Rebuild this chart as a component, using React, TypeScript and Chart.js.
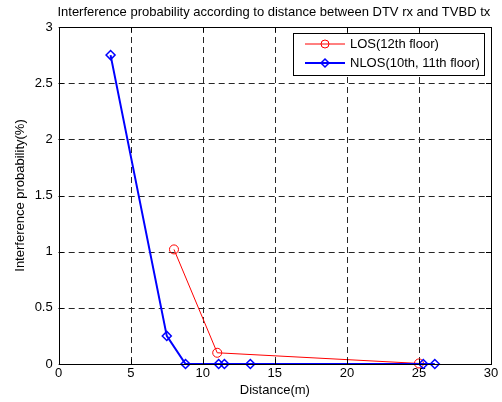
import React, { useEffect, useRef } from "react";
import { Chart, registerables } from "chart.js";

Chart.register(...registerables);

const titleText = "Interference probability according to distance between DTV rx and TVBD tx";
const xLabel = "Distance(m)";
const yLabel = "Interference probability(%)";

const losLabel = "LOS(12th floor)";
const losX = [8, 11, 25];
const losY = [1.02, 0.1, 0.005];

const nlosLabel = "NLOS(10th, 11th floor)";
const nlosX = [3.6, 7.5, 8.8, 11.1, 11.5, 13.3, 25.3, 26.1];
const nlosY = [2.75, 0.25, 0, 0, 0, 0, 0, 0];

const FONT = "Arial, 'Liberation Sans', sans-serif";
const FS = 13;

const gridPlugin = {
  id: "dashgrid",
  beforeDatasetsDraw(chart: any) {
    const { ctx, chartArea: a, scales } = chart;
    ctx.save();
    ctx.strokeStyle = "#262626";
    ctx.lineWidth = 1;
    ctx.setLineDash([6, 4]);
    ctx.beginPath();
    scales.x.ticks.forEach((t: any) => {
      if (t.value <= scales.x.min || t.value >= scales.x.max) return;
      const px = Math.round(scales.x.getPixelForValue(t.value)) + 0.5;
      ctx.moveTo(px, a.top);
      ctx.lineTo(px, a.bottom);
    });
    scales.y.ticks.forEach((t: any) => {
      if (t.value <= scales.y.min || t.value >= scales.y.max) return;
      const py = Math.round(scales.y.getPixelForValue(t.value)) + 0.5;
      ctx.moveTo(a.left, py);
      ctx.lineTo(a.right, py);
    });
    ctx.stroke();
    ctx.restore();
  },
};

const framePlugin = {
  id: "frame",
  afterDatasetsDraw(chart: any) {
    const { ctx, chartArea: a, scales } = chart;
    ctx.save();
    ctx.strokeStyle = "#000";
    ctx.lineWidth = 1;
    ctx.setLineDash([]);
    ctx.strokeRect(Math.round(a.left) + 0.5, Math.round(a.top) + 0.5, Math.round(a.right - a.left), Math.round(a.bottom - a.top));
    const tl = 5;
    ctx.beginPath();
    scales.x.ticks.forEach((t: any) => {
      const px = Math.round(scales.x.getPixelForValue(t.value)) + 0.5;
      ctx.moveTo(px, a.bottom);
      ctx.lineTo(px, a.bottom - tl);
      ctx.moveTo(px, a.top);
      ctx.lineTo(px, a.top + tl);
    });
    scales.y.ticks.forEach((t: any) => {
      const py = Math.round(scales.y.getPixelForValue(t.value)) + 0.5;
      ctx.moveTo(a.left, py);
      ctx.lineTo(a.left + tl, py);
      ctx.moveTo(a.right, py);
      ctx.lineTo(a.right - tl, py);
    });
    ctx.stroke();

    // legend
    const lx = 293.5, ly = 33.5, lw = 191, lh = 42;
    ctx.fillStyle = "#fff";
    ctx.fillRect(lx, ly, lw, lh);
    ctx.strokeRect(lx, ly, lw, lh);
    const rows = [
      { label: losLabel, color: "#ff0000", lw: 1, marker: "circle", y: 44 },
      { label: nlosLabel, color: "#0000ff", lw: 2, marker: "diamond", y: 63 },
    ];
    ctx.font = FS + "px " + FONT;
    ctx.textBaseline = "middle";
    rows.forEach((r) => {
      ctx.strokeStyle = r.color;
      ctx.lineWidth = r.lw;
      ctx.beginPath();
      ctx.moveTo(305, r.y);
      ctx.lineTo(345, r.y);
      ctx.stroke();
      ctx.lineWidth = r.marker === "circle" ? 1 : 1.5;
      ctx.beginPath();
      if (r.marker === "circle") {
        ctx.arc(325, r.y, 4, 0, Math.PI * 2);
      } else {
        ctx.moveTo(325, r.y - 4);
        ctx.lineTo(329, r.y);
        ctx.lineTo(325, r.y + 4);
        ctx.lineTo(321, r.y);
        ctx.closePath();
      }
      ctx.stroke();
      ctx.fillStyle = "#000";
      ctx.textAlign = "left";
      ctx.fillText(r.label, 350, r.y);
    });

    ctx.font = FS + "px " + FONT;
    ctx.textAlign = "center";
    ctx.textBaseline = "middle";
    ctx.fillStyle = "#000";
    ctx.fillText(titleText, (a.left + a.right) / 2 - 1, 12);
    ctx.restore();
  },
};

export default function App() {
  const ref = useRef<HTMLCanvasElement>(null);
  useEffect(() => {
    document.body.style.margin = "0";
    const chart = new Chart(ref.current!, {
      type: "scatter",
      data: {
        datasets: [
          {
            label: nlosLabel,
            data: nlosX.map((x, i) => ({ x, y: nlosY[i] })),
            showLine: true,
            borderColor: "#0000ff",
            borderWidth: 2,
            pointStyle: "rectRot",
            pointRadius: 4.5,
            pointBorderWidth: 1.5,
            pointBorderColor: "#0000ff",
            pointBackgroundColor: "rgba(0,0,0,0)",
            clip: false as any,
          },
          {
            label: losLabel,
            data: losX.map((x, i) => ({ x, y: losY[i] })),
            showLine: true,
            borderColor: "#ff0000",
            borderWidth: 1,
            pointStyle: "circle",
            pointRadius: 4.5,
            pointBorderWidth: 1,
            pointBorderColor: "#ff0000",
            pointBackgroundColor: "rgba(0,0,0,0)",
            clip: false as any,
          },
        ],
      },
      options: {
        animation: false,
        responsive: false,
        layout: { padding: { top: 27, right: 11, left: 0, bottom: 0 } },
        plugins: { legend: { display: false }, tooltip: { enabled: false }, title: { display: false } },
        scales: {
          x: {
            type: "linear",
            min: 0,
            max: 30,
            ticks: { stepSize: 5, color: "#000", font: { size: FS, family: FONT }, padding: 2, maxRotation: 0 },
            grid: { display: false, drawTicks: false },
            border: { display: false },
            title: { display: true, text: xLabel, color: "#000", font: { size: FS, family: FONT }, padding: { top: 0, bottom: 4 } },
            afterFit: (s: any) => { s.height = 38; },
          },
          y: {
            type: "linear",
            min: 0,
            max: 3,
            ticks: {
              stepSize: 0.5,
              color: "#000",
              font: { size: FS, family: FONT },
              padding: 6,
              callback: (v: any) => String(Math.round(Number(v) * 10) / 10),
            },
            grid: { display: false, drawTicks: false },
            border: { display: false },
            title: { display: true, text: yLabel, color: "#000", font: { size: FS, family: FONT }, padding: { top: 13, bottom: 0 } },
            afterFit: (s: any) => { s.width = 58.7; },
          },
        },
      },
      plugins: [gridPlugin, framePlugin],
    });
    return () => chart.destroy();
  }, []);
  return (
    <div style={{ width: 502, height: 402 }}>
      <canvas ref={ref} width={502} height={402} style={{ display: "block", background: "#fff" }} />
    </div>
  );
}
